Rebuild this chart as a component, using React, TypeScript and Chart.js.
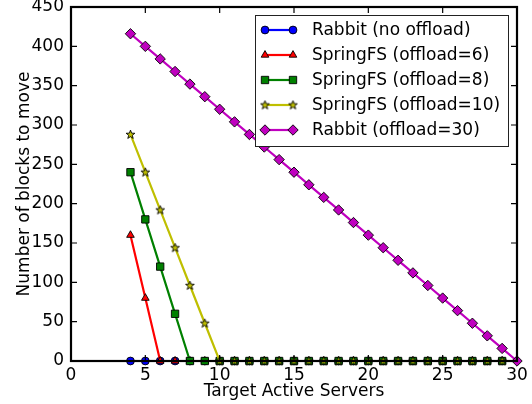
import React, { useEffect, useRef } from "react";
import { Chart, registerables } from "chart.js";
import { drawPoint } from "chart.js/helpers";

Chart.register(...registerables);

const servers = [4, 5, 6, 7, 8, 9, 10, 11, 12, 13, 14, 15, 16, 17, 18, 19, 20, 21, 22, 23, 24, 25, 26, 27, 28, 29];
const serversMagenta = [4, 5, 6, 7, 8, 9, 10, 11, 12, 13, 14, 15, 16, 17, 18, 19, 20, 21, 22, 23, 24, 25, 26, 27, 28, 29, 30];

const rabbitNoOffload = [0, 0, 0, 0, 0, 0, 0, 0, 0, 0, 0, 0, 0, 0, 0, 0, 0, 0, 0, 0, 0, 0, 0, 0, 0, 0];
const springFS6 = [160, 80, 0, 0, 0, 0, 0, 0, 0, 0, 0, 0, 0, 0, 0, 0, 0, 0, 0, 0, 0, 0, 0, 0, 0, 0];
const springFS8 = [240, 180, 120, 60, 0, 0, 0, 0, 0, 0, 0, 0, 0, 0, 0, 0, 0, 0, 0, 0, 0, 0, 0, 0, 0, 0];
const springFS10 = [288, 240, 192, 144, 96, 48, 0, 0, 0, 0, 0, 0, 0, 0, 0, 0, 0, 0, 0, 0, 0, 0, 0, 0, 0, 0];
const rabbit30 = [416, 400, 384, 368, 352, 336, 320, 304, 288, 272, 256, 240, 224, 208, 192, 176, 160, 144, 128, 112, 96, 80, 64, 48, 32, 16, 0];

const seriesLabels = [
  "Rabbit (no offload)",
  "SpringFS (offload=6)",
  "SpringFS (offload=8)",
  "SpringFS (offload=10)",
  "Rabbit (offload=30)",
];
const xTicks = [0, 5, 10, 15, 20, 25, 30];
const yTicks = [0, 50, 100, 150, 200, 250, 300, 350, 400, 450];

const FONT = "'DejaVu Sans', sans-serif";

function makeStar(): HTMLCanvasElement {
  const c = document.createElement("canvas");
  c.width = 11;
  c.height = 11;
  const g = c.getContext("2d")!;
  const cx = 5.5, cy = 5.7, ro = 4.6, ri = 1.9;
  g.beginPath();
  for (let i = 0; i < 10; i++) {
    const r = i % 2 === 0 ? ro : ri;
    const a = -Math.PI / 2 + (i * Math.PI) / 5;
    const px = cx + r * Math.cos(a);
    const py = cy + r * Math.sin(a);
    if (i === 0) g.moveTo(px, py);
    else g.lineTo(px, py);
  }
  g.closePath();
  g.fillStyle = "#bfbf00";
  g.fill();
  g.lineWidth = 0.9;
  g.strokeStyle = "#000";
  g.stroke();
  return c;
}

export default function App() {
  const ref = useRef<HTMLCanvasElement | null>(null);

  useEffect(() => {
    if (!ref.current) return;
    const star = makeStar();
    const styles: any[] = [
      { color: "#0000ff", style: "circle", radius: 3.9 },
      { color: "#ff0000", style: "triangle", radius: 4.4 },
      { color: "#008000", style: "rect", radius: 5.2 },
      { color: "#bfbf00", style: star, radius: 4 },
      { color: "#bf00bf", style: "rectRot", radius: 5.2 },
    ];
    const values = [rabbitNoOffload, springFS6, springFS8, springFS10, rabbit30];
    const xs = [servers, servers, servers, servers, serversMagenta];

    const datasets = values.map((vals, i) => ({
      label: seriesLabels[i],
      data: vals.map((v, j) => ({ x: xs[i][j], y: v })),
      borderColor: styles[i].color,
      backgroundColor: styles[i].color,
      pointBackgroundColor: styles[i].color,
      pointBorderColor: "#000",
      pointBorderWidth: 0.9,
      pointStyle: styles[i].style,
      pointRadius: styles[i].radius,
      borderWidth: 2.2,
      order: 5 - i,
      clip: 6,
    }));

    const framePlugin = {
      id: "frame",
      afterDatasetsDraw(chart: any) {
        const { ctx, chartArea: a, scales } = chart;
        ctx.save();
        ctx.strokeStyle = "#000";
        ctx.lineWidth = 1.2;
        const tl = 6;
        ctx.beginPath();
        xTicks.forEach((t) => {
          const px = scales.x.getPixelForValue(t);
          ctx.moveTo(px, a.bottom);
          ctx.lineTo(px, a.bottom - tl);
          ctx.moveTo(px, a.top);
          ctx.lineTo(px, a.top + tl);
        });
        yTicks.forEach((t) => {
          const py = scales.y.getPixelForValue(t);
          ctx.moveTo(a.left, py);
          ctx.lineTo(a.left + tl, py);
          ctx.moveTo(a.right, py);
          ctx.lineTo(a.right - tl, py);
        });
        ctx.stroke();
        ctx.lineWidth = 2.2;
        ctx.strokeRect(a.left, a.top, a.right - a.left, a.bottom - a.top);

        // legend
        const lx = 255, ly = 15, lw = 253, lh = 131;
        ctx.fillStyle = "#fff";
        ctx.fillRect(lx, ly, lw, lh);
        ctx.lineWidth = 1;
        ctx.strokeStyle = "#222";
        ctx.strokeRect(lx + 0.5, ly + 0.5, lw, lh);
        ctx.font = `17px ${FONT}`;
        ctx.textBaseline = "middle";
        ctx.textAlign = "left";
        seriesLabels.forEach((lab, i) => {
          const y = 30 + i * 25;
          const s = styles[i];
          ctx.strokeStyle = s.color;
          ctx.lineWidth = 2.2;
          ctx.beginPath();
          ctx.moveTo(265, y);
          ctx.lineTo(293, y);
          ctx.stroke();
          [265, 293].forEach((px) => {
            ctx.fillStyle = s.color;
            ctx.strokeStyle = "#000";
            ctx.lineWidth = 0.9;
            drawPoint(ctx, { pointStyle: s.style, radius: s.radius, rotation: 0, borderWidth: 0.9 } as any, px, y);
          });
          ctx.fillStyle = "#000";
          ctx.fillText(lab, 312, y + 1);
        });
        ctx.restore();
      },
    };

    const chart = new Chart(ref.current, {
      type: "line",
      data: { datasets: datasets as any },
      options: {
        animation: false,
        responsive: false,
        maintainAspectRatio: false,
        layout: { padding: { top: 7, right: 15, left: 0, bottom: 0 } },
        plugins: { legend: { display: false }, tooltip: { enabled: false } },
        scales: {
          x: {
            type: "linear",
            min: 0,
            max: 30,
            afterFit: (s: any) => {
              s.height = 43;
              s.paddingLeft = 0;
              s.paddingRight = 0;
            },
            ticks: { stepSize: 5, color: "#000", font: { family: FONT, size: 17 }, padding: 4, maxRotation: 0 },
            grid: { display: false, drawTicks: false },
            border: { display: false },
            title: {
              display: true,
              text: "Target Active Servers",
              color: "#000",
              font: { family: FONT, size: 17 },
              padding: { top: 0, bottom: 2 },
            },
          },
          y: {
            min: 0,
            max: 450,
            afterFit: (s: any) => {
              s.width = 71;
              s.paddingTop = 0;
              s.paddingBottom = 0;
            },
            ticks: { stepSize: 50, color: "#000", font: { family: FONT, size: 17 }, padding: 7 },
            grid: { display: false, drawTicks: false },
            border: { display: false },
            title: {
              display: true,
              text: "Number of blocks to move",
              color: "#000",
              font: { family: FONT, size: 17 },
              padding: { top: 14, bottom: 0 },
            },
          },
        },
      },
      plugins: [framePlugin],
    });
    return () => chart.destroy();
  }, []);

  return (
    <div style={{ position: "absolute", left: 0, top: 0, width: 532, height: 404, background: "#fff" }}>
      <canvas ref={ref} width={532} height={404} />
    </div>
  );
}
